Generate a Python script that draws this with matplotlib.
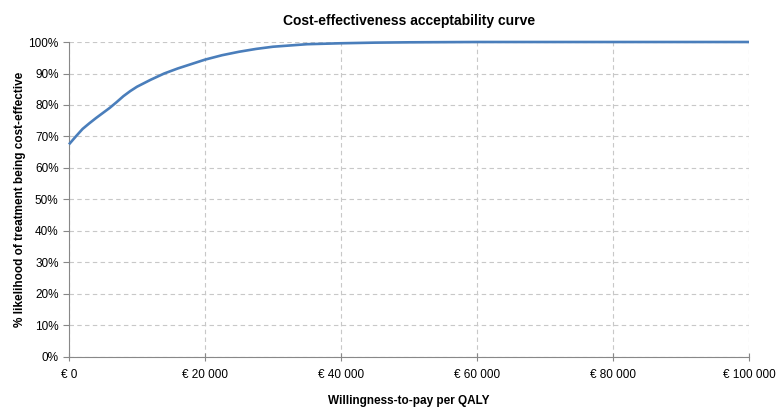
import matplotlib
matplotlib.use("Agg")
import matplotlib.pyplot as plt
from matplotlib.ticker import FuncFormatter

plt.rcParams['font.family'] = ['Liberation Sans', 'DejaVu Sans']

# willingness-to-pay per QALY (EUR) and probability cost-effective (%)
wtp = [0, 1000, 2000, 3000, 4000, 5000, 6000, 7000, 8000, 9000, 10000,
       12000, 14000, 16000, 18000, 20000, 22500, 25000, 27500, 30000,
       35000, 40000, 45000, 50000, 60000, 70000, 80000, 90000, 100000]
prob = [67.5, 70.0, 72.4, 74.2, 75.9, 77.5, 79.1, 80.9, 82.8, 84.4, 85.8,
        88.0, 90.0, 91.6, 93.0, 94.4, 95.8, 96.9, 97.8, 98.5,
        99.3, 99.6, 99.8, 99.9, 100, 100, 100, 100, 100]

x_ticks = [0, 20000, 40000, 60000, 80000, 100000]
y_ticks = list(range(0, 101, 10))

fig = plt.figure(figsize=(7.76, 4.07), dpi=100)
ax = fig.add_axes([0.0889, 0.1229, 0.8763, 0.7739])

ax.plot(wtp, prob, color='#4a7ebb', linewidth=1.9, solid_capstyle='butt', clip_on=False, zorder=3)

ax.set_xlim(0, 100000)
ax.set_ylim(0, 100)
ax.set_xticks(x_ticks)
ax.set_yticks(y_ticks)
ax.xaxis.set_major_formatter(FuncFormatter(lambda v, p: "€ " + f"{int(v):,}".replace(",", " ")))
ax.yaxis.set_major_formatter(FuncFormatter(lambda v, p: f"{int(v)}%"))

ax.grid(True, color='#c8c8c8', linestyle=(0, (4, 3)), linewidth=0.8)
ax.set_axisbelow(True)
for s in ['top', 'right']:
    ax.spines[s].set_visible(False)
for s in ['left', 'bottom']:
    ax.spines[s].set_color('#888888')
ax.tick_params(axis='both', colors='#888888', labelcolor='black', labelsize=8.5, length=4)
ax.tick_params(axis='x', direction='inout', length=6, pad=6)

ax.set_title('Cost-effectiveness acceptability curve', fontsize=10, fontweight='bold', pad=12)
ax.set_xlabel('Willingness-to-pay per QALY', fontsize=8.5, fontweight='bold', labelpad=10)
ax.set_ylabel('% likelihood of treatment being cost-effective', fontsize=8.5, fontweight='bold', labelpad=2)

fig.savefig('out.png', dpi=100)
